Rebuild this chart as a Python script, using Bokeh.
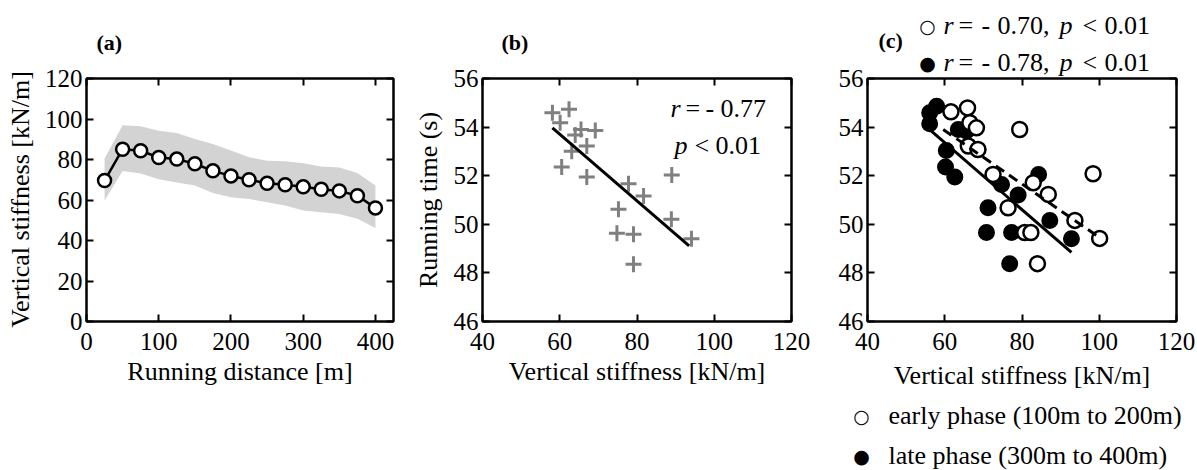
import math
from bokeh.plotting import figure
from bokeh.layouts import row
from bokeh.models import LinearAxis, Range1d, FixedTicker, ColumnDataSource, CustomJSTickFormatter
from bokeh.core.properties import value
from bokeh.embed import file_html
from bokeh.resources import INLINE

FONT = "Liberation Serif"

# ---------------- data ----------------
# (a) vertical stiffness along the run
distance = [25, 50, 75, 100, 125, 150, 175, 200, 225, 250, 275, 300, 325, 350, 375, 400]
stiff_mean = [69.6, 85.1, 84.3, 81.0, 80.2, 77.9, 74.4, 71.9, 70.0, 68.3, 67.5, 66.5, 65.3, 64.5, 62.1, 56.1]
stiff_upper = [80.5, 96.9, 96.4, 94.2, 93.1, 90.1, 87.6, 84.4, 81.1, 79.4, 79.1, 78.1, 76.5, 76.1, 73.3, 67.2]
stiff_lower = [59.8, 74.3, 73.1, 70.3, 68.7, 67.1, 63.4, 61.4, 60.5, 58.9, 57.3, 54.8, 54.0, 53.1, 50.7, 46.2]

# (b) mean stiffness vs running time
b_stiff = [58.1, 62.4, 60.1, 65.5, 69.2, 64.0, 67.0, 63.1, 60.5, 67.0, 77.8, 81.7, 89.0, 75.2, 74.8, 79.1, 88.9, 94.1, 79.1]
b_time = [54.59, 54.73, 54.18, 53.90, 53.86, 53.67, 53.22, 53.01, 52.36, 51.95, 51.67, 51.16, 52.03, 50.62, 49.63, 49.59, 50.21, 49.41, 48.36]
b_fit_x = [58.1, 93.5]
b_fit_y = [53.97, 49.11]

# (c) early / late phase
late_stiff = [56.1, 57.9, 56.1, 63.5, 65.6, 60.4, 60.2, 62.6, 74.7, 79.0, 84.3, 71.2, 87.2, 70.8, 77.3, 92.8, 76.8]
late_time = [54.59, 54.86, 54.14, 53.90, 53.84, 53.04, 52.36, 51.95, 51.64, 51.21, 52.05, 50.68, 50.16, 49.66, 49.66, 49.41, 48.38]
early_stiff = [61.6, 65.9, 66.5, 68.2, 66.1, 68.6, 79.4, 72.5, 82.9, 86.8, 98.4, 76.4, 93.7, 100.1, 80.7, 82.3, 84.0]
early_time = [54.63, 54.79, 54.18, 53.97, 53.22, 53.08, 53.90, 52.05, 51.71, 51.23, 52.08, 50.68, 50.16, 49.42, 49.66, 49.66, 48.38]
late_fit_x = [56.1, 92.8]
late_fit_y = [53.90, 48.84]
early_fit_x = [59.6, 100.1]
early_fit_y = [53.90, 49.45]

a_xticks = [0, 100, 200, 300, 400]
a_yticks = [0, 20, 40, 60, 80, 100, 120]
bc_xticks = [40, 60, 80, 100, 120]
bc_yticks = [46, 48, 50, 52, 54, 56]

TICK_FS = "25px"
LABEL_FS = "26px"
FRAME_TOP = 78
FRAME_H = 243
TOTAL_H = 470


def make_fig(xr, yr, xticks, yticks, mbl, mbr, fw, xlabel, ylabel, ylab_standoff, xlab_standoff):
    p = figure(x_range=Range1d(*xr), y_range=Range1d(*yr), frame_width=fw, frame_height=FRAME_H,
               min_border_left=mbl, min_border_right=mbr, min_border_top=FRAME_TOP,
               min_border_bottom=TOTAL_H - FRAME_TOP - FRAME_H,
               output_backend="svg", toolbar_location=None,
               x_axis_location=None, y_axis_location=None)
    p.xgrid.visible = False
    p.ygrid.visible = False
    p.outline_line_color = "black"
    p.outline_line_width = 2
    p.background_fill_color = "white"
    p.border_fill_color = "white"
    for loc, is_x in (("below", True), ("left", False), ("above", True), ("right", False)):
        ax = LinearAxis(ticker=FixedTicker(ticks=xticks if is_x else yticks))
        ax.major_tick_in = 7
        ax.major_tick_out = 0
        ax.minor_tick_line_color = None
        ax.major_tick_line_width = 2
        ax.axis_line_width = 2
        ax.major_label_text_font = FONT
        ax.major_label_text_color = "black"
        if loc in ("above", "right"):
            ax.formatter = CustomJSTickFormatter(code="return ''")
            ax.major_label_text_font_size = "8px"
            ax.major_label_standoff = 0
        else:
            ax.major_label_text_font_size = TICK_FS
            ax.major_label_standoff = 11 if is_x else 4
            lab = xlabel if is_x else ylabel
            if lab:
                ax.axis_label = lab
                ax.axis_label_text_font = FONT
                ax.axis_label_text_font_size = LABEL_FS
                ax.axis_label_text_font_style = "normal"
                ax.axis_label_text_color = "black"
                ax.axis_label_standoff = xlab_standoff if is_x else ylab_standoff
        p.add_layout(ax, loc)
    return p


def to_data(frame, rng, px, py):
    """page pixel position -> data position of a panel (for annotation placement)"""
    left, right = frame
    x0, x1, y0, y1 = rng
    return (x0 + (px - left) / (right - left) * (x1 - x0),
            y1 - (py - FRAME_TOP) / FRAME_H * (y1 - y0))


def add_texts(p, frame, rng, items, size, font=FONT, align="left", angle=0.0):
    xs, ys, ts, st = [], [], [], []
    for px, py, t, s in items:
        x, y = to_data(frame, rng, px, py)
        xs.append(x); ys.append(y); ts.append(t); st.append(s)
    src = ColumnDataSource(dict(x=xs, y=ys, text=ts, style=st))
    p.text(x="x", y="y", text="text", source=src, text_font=value(font),
           text_font_size=value(size), text_font_style="style", text_align=align,
           text_baseline="middle", text_color="black", angle=angle, level="overlay")


# ---------------- panel (a) ----------------
ra = (0, 425, 0, 120)
fa = (86, 393)
pa = make_fig(ra[:2], ra[2:], a_xticks, a_yticks, 86, 17, 307,
              "Running distance [m]", None, 0, 4)
pa.varea(x=distance, y1=stiff_lower, y2=stiff_upper, color="#d3d3d3")
pa.line(distance, stiff_mean, line_color="black", line_width=2.5)
pa.scatter(distance, stiff_mean, marker="circle", size=13, fill_color="white",
           line_color="black", line_width=2.5)
add_texts(pa, fa, ra, [(96, 42, "(a)", "bold")], "22px")
add_texts(pa, fa, ra, [(20, 199, "Vertical stiffness [kN/m]", "normal")], LABEL_FS,
          align="center", angle=math.pi / 2)

# ---------------- panel (b) ----------------
rb = (40, 120, 46, 56)
fb = (474, 783)
pb = make_fig(rb[:2], rb[2:], bc_xticks, bc_yticks, 64, 32, 309,
              "Vertical stiffness [kN/m]", "Running time (s)", 8, 4)
pb.scatter(b_stiff, b_time, marker="cross", size=16, line_color="#808080", line_width=3)
pb.line(b_fit_x, b_fit_y, line_color="black", line_width=3)
add_texts(pb, fb, rb, [(493, 42, "(b)", "bold")], "22px")
add_texts(pb, fb, rb, [(662, 108, "r", "italic"), (677, 108, "=", "normal"),
                       (697, 108, "-", "normal"), (712, 108, "0.77", "normal"),
                       (666, 145, "p", "italic"), (686, 145, "<", "normal"),
                       (707, 145, "0.01", "normal")], "26px")

# ---------------- panel (c) ----------------
rc = (40, 120, 46, 56)
fc = (859, 1168)
pc = make_fig(rc[:2], rc[2:], bc_xticks, bc_yticks, 44, 29, 309,
              "Vertical stiffness [kN/m]", None, 1, 8)
pc.scatter(late_stiff, late_time, marker="circle", size=15, fill_color="black",
           line_color="black", line_width=2)
pc.scatter(early_stiff, early_time, marker="circle", size=15, fill_color="white",
           line_color="black", line_width=2.5)
pc.line(late_fit_x, late_fit_y, line_color="black", line_width=3)
pc.line(early_fit_x, early_fit_y, line_color="black", line_width=3, line_dash="10 6")
add_texts(pc, fc, rc, [(870, 40, "(c)", "bold")], "22px")
legend_items = []
for yy, rv in ((25, "0.70,"), (62, "0.78,")):
    legend_items += [(935, yy, "r", "italic"), (950, yy, "=", "normal"),
                     (973, yy, "-", "normal"), (989, yy, rv, "normal"),
                     (1051, yy, "p", "italic"), (1074, yy, "<", "normal"),
                     (1096, yy, "0.01", "normal")]
add_texts(pc, fc, rc, legend_items, "26px")
# legend keys (open = early phase, filled = late phase)
add_texts(pc, fc, rc, [(919, 25, "\u25CB", "normal"), (919, 62, "\u25CF", "normal"),
                       (853, 415, "\u25CB", "normal"), (853, 455, "\u25CF", "normal")],
          "19px", font="DejaVu Sans", align="center")
add_texts(pc, fc, rc, [(880, 415, "early phase (100m to 200m)", "normal"),
                       (880, 455, "late phase (300m to 400m)", "normal")], "26px")

layout = row(pa, pb, pc, spacing=0)
open("out.html", "w").write(file_html(layout, INLINE))
